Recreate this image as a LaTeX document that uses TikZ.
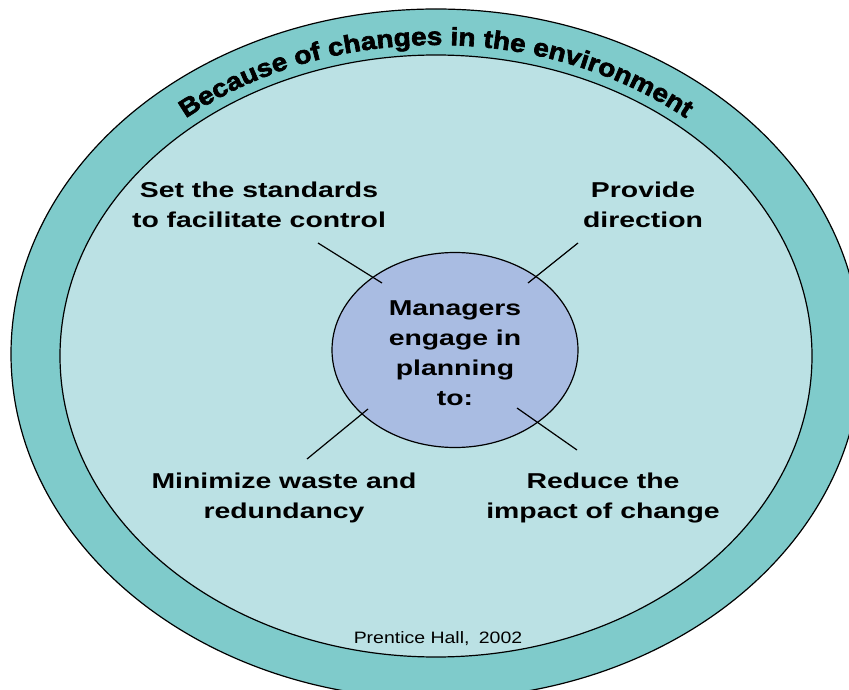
\documentclass[tikz,border=0pt]{standalone}
\usepackage{fontspec}
\usetikzlibrary{shapes.geometric,decorations.text}
\newfontfamily\lblfont{Liberation Sans}[FakeStretch=1.32]
\newfontfamily\ringfont{Liberation Sans}[FakeStretch=1.12,FakeBold=2.5]
\newfontfamily\notefont{Liberation Sans}[FakeStretch=1.18]
\definecolor{ringteal}{RGB}{127,203,203}
\definecolor{innerteal}{RGB}{187,225,228}
\definecolor{coreblue}{RGB}{169,188,226}
\tikzset{
  oval/.style={ellipse, draw=black, line width=1.2pt, inner sep=0pt},
  lbl/.style={font=\lblfont\bfseries\fontsize{21.5}{30}\selectfont, align=center, anchor=base, inner sep=0pt},
  spoke/.style={draw=black, line width=1.2pt},
}
\begin{document}
\begin{tikzpicture}[x=1pt,y=-1pt]
\useasboundingbox (0,0) rectangle (849,690);
\clip (0,0) rectangle (849,690);
\fill[white] (0,0) rectangle (849,690);
\node[oval, fill=ringteal, minimum width=850pt, minimum height=690pt] (outer) at (436,354) {};
\node[oval, fill=innerteal, minimum width=752pt, minimum height=602pt] (inner) at (436,356) {};
\coordinate (ctr) at (436,357);
\path[decorate, decoration={text along path, text align=center,
  text={|\ringfont\bfseries\fontsize{25}{25}\selectfont|Because of changes in the environment}}]
  (ctr) ++(150:388pt and 312pt) arc[start angle=150, end angle=30, x radius=388pt, y radius=312pt];
\node[oval, fill=coreblue, minimum width=246pt, minimum height=195pt] (core) at (455,350) {};
\node[lbl] (coretxt) at (455,405) {Managers\\engage in\\planning\\to:};
\node[lbl] (std) at (259,227) {Set the standards\\to facilitate control};
\node[lbl] (dir) at (643,227) {Provide\\direction};
\node[lbl] (waste) at (284,518) {Minimize waste and\\redundancy};
\node[lbl] (impact) at (603,518) {Reduce the\\impact of change};
\node[font=\notefont\fontsize{16.5}{18}\selectfont, anchor=base, inner sep=0pt] (note) at (438,643) {Prentice Hall,\hspace{4pt} 2002};
\coordinate (ulA) at (318,243); \coordinate (ulB) at (382,283);
\coordinate (urA) at (578,243); \coordinate (urB) at (528,283);
\coordinate (llA) at (368,409); \coordinate (llB) at (307,459);
\coordinate (lrA) at (517,408); \coordinate (lrB) at (577,450);
\draw[spoke] (ulA) -- (ulB);
\draw[spoke] (urA) -- (urB);
\draw[spoke] (llA) -- (llB);
\draw[spoke] (lrA) -- (lrB);
\end{tikzpicture}
\end{document}
